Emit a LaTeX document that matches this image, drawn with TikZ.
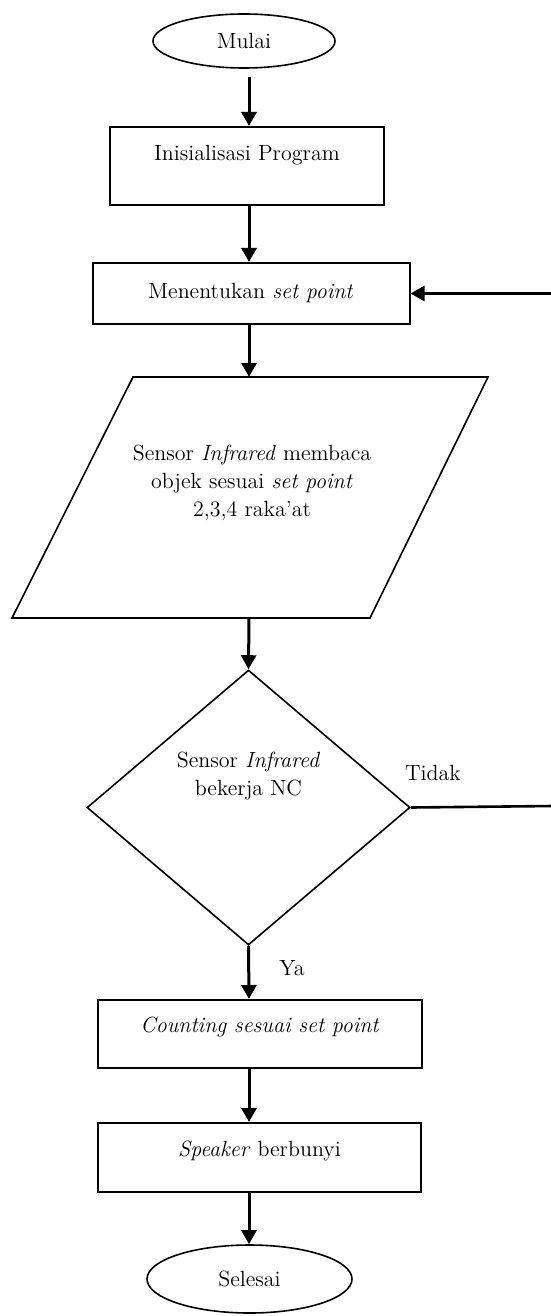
\documentclass[tikz,border=0pt]{standalone}
\usetikzlibrary{arrows.meta,positioning,shapes.geometric}

\begin{document}
\begin{tikzpicture}[x=0.5pt,y=-0.5pt,
  every node/.style={font=\fontsize{11}{14}\selectfont},
  term/.style={ellipse,draw,line width=0.8pt,minimum width=91pt,minimum height=27pt,inner sep=0pt},
  proc/.style={rectangle,draw,line width=1pt,align=center},
  io/.style={draw,line width=0.8pt,line join=miter},
  decide/.style={diamond,draw,line width=0.8pt,minimum width=161.5pt,minimum height=137.5pt,inner sep=0pt},
  arr/.style={-{Triangle[length=7pt,width=7.5pt]},line width=1.5pt},
  back/.style={-{Triangle[length=7pt,width=7.5pt]},line width=1.3pt}
]
\useasboundingbox (0,0) rectangle (551,1316);
\coordinate (spine) at (249,0);

\node[term] (mulai) at (244,41) {Mulai};
\node[proc,minimum width=137pt,minimum height=39pt,text depth=13pt] (init) at (247,166) {Inisialisasi Program};
\node[proc,minimum width=158.5pt,minimum height=30.5pt] (setp) at (251,293.5) {Menentukan \textit{set point}};
% jajaran genjang input
\draw[io] (12,618) -- (133,377) -- (488,377) -- (370,618) -- cycle;
\coordinate (bacaN) at (249,377);
\coordinate (bacaS) at (249,618);
\node[align=center] (bacaTxt) at (252,483) {Sensor \textit{Infrared} membaca\\objek sesuai \textit{set point}\\2,3,4 raka’at};
\node[decide] (cek) at (248.5,807.5) {};
\node[align=center] (cekTxt) at (248.5,776) {Sensor \textit{Infrared}\\bekerja NC};
\node (tidak) at (433,773) {Tidak};
\node (ya) at (292,968) {Ya};
\node[proc,minimum width=162pt,minimum height=34pt,text depth=9pt] (hitung) at (260,1034) {\textit{Counting sesuai set point}};
\node[proc,minimum width=161.5pt,minimum height=34.5pt,text depth=9pt] (bunyi) at (259.5,1157.5) {\textit{Speaker} berbunyi};
\node[term,minimum width=102.5pt,minimum height=34pt] (selesai) at (249.5,1279) {Selesai};
\coordinate (balik) at (553,806);

\draw[arr,shorten <=4pt] (mulai.south -| spine) -- (init.north -| spine);
\draw[arr] (init.south -| spine) -- (setp.north -| spine);
\draw[arr] (setp.south -| spine) -- (bacaN);
\draw[arr] (bacaS) -- (cek.north);
\draw[arr] (cek.south) -- (hitung.north -| spine);
\draw[arr] (hitung.south -| spine) -- (bunyi.north -| spine);
\draw[arr] (bunyi.south -| spine) -- (selesai.north -| spine);
\draw[back] (cek.east) -- (balik) |- (setp.east);
\end{tikzpicture}
\end{document}
